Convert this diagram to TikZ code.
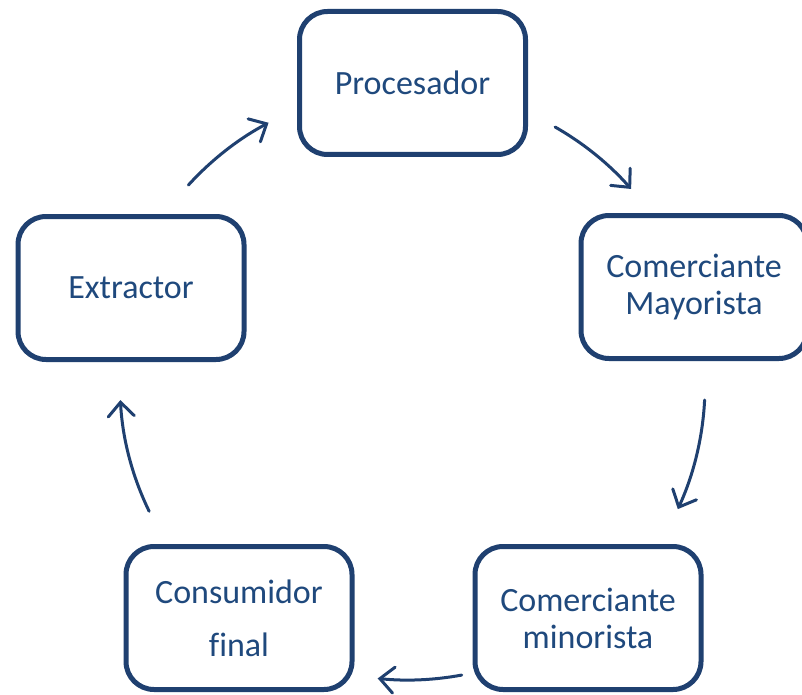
\documentclass[tikz,border=0pt]{standalone}
\usepackage{fontspec}
\setmainfont{Carlito}[Ligatures=NoCommon]
\usetikzlibrary{arrows.meta,calc}
\definecolor{boxblue}{RGB}{31,64,112}
\definecolor{txtblue}{RGB}{31,73,125}
\begin{document}
\begin{tikzpicture}[x=1pt,y=1pt,
  stagebox/.style={draw=boxblue, line width=5pt, rounded corners=28pt,
    minimum width=226pt, minimum height=143pt, inner sep=0pt, align=center,
    text=txtblue, font=\fontsize{34}{37}\selectfont, fill=white},
  cyclearrow/.style={draw=boxblue, line width=3pt, line cap=round,
    -{Straight Barb[length=14pt,width=26pt,line cap=round]}}]
\useasboundingbox (0,0) rectangle (802,-695);
\fill[white] (0,0) rectangle (802,-695);
\node[stagebox] (proc) at (412.5,-83) {Procesador};
\node[stagebox] (mayo) at (694,-287) {Comerciante\\Mayorista};
\node[stagebox] (mino) at (588,-618) {Comerciante\\minorista};
\node[stagebox] (cons) at (239,-618) {Consumidor\\[16pt]final};
\node[stagebox] (extr) at (131,-288) {Extractor};
\coordinate (ctr) at (408,-385);
\coordinate (a1) at ($(ctr)+(137.7:297)$);
\coordinate (a2) at ($(ctr)+(60.3:297)$);
\coordinate (a3) at ($(ctr)+(-2.9:297)$);
\coordinate (a4) at ($(ctr)+(-79.5:295)$);
\coordinate (a5) at ($(ctr)+(206:288)$);
\draw[cyclearrow] (a1) arc[start angle=137.7, end angle=118, radius=297pt];
\draw[cyclearrow] (a2) arc[start angle=60.3, end angle=41.3, radius=297pt];
\draw[cyclearrow] (a3) arc[start angle=-2.9, end angle=-24.7, radius=297pt];
\draw[cyclearrow] (a4) arc[start angle=-79.5, end angle=-95.9, radius=295pt];
\draw[cyclearrow] (a5) arc[start angle=206, end angle=183, radius=288pt];
\end{tikzpicture}
\end{document}
